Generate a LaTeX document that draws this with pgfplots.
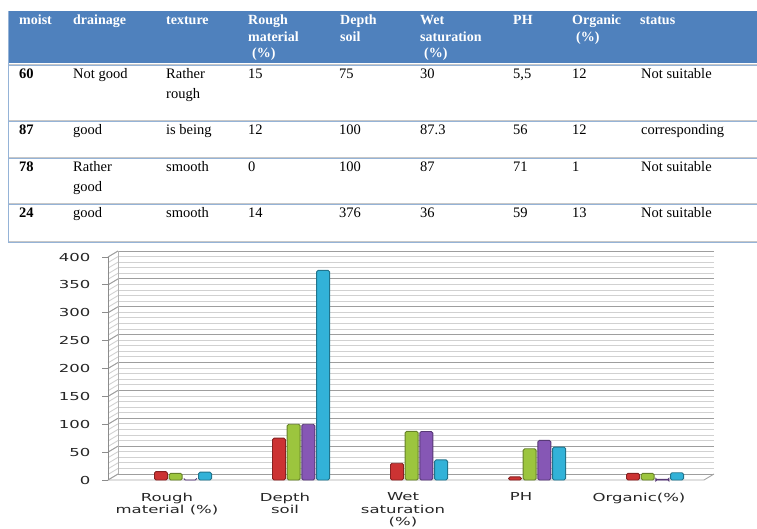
\documentclass[border=0pt]{standalone}
\usepackage{fontspec}
\setmainfont{Liberation Serif}
\newfontfamily\chartfont[FakeStretch=1.5]{DejaVu Sans}
\usepackage{pgfplots}
\pgfplotsset{compat=1.18}
\definecolor{hdr}{HTML}{4F81BD}
\definecolor{rowline}{HTML}{95B3D7}
\definecolor{cR}{HTML}{CC3333}
\definecolor{cG}{HTML}{9CC53E}
\definecolor{cP}{HTML}{8657B5}
\definecolor{cC}{HTML}{32B2D8}
\newcommand{\T}[3]{\node[anchor=base west,inner sep=0pt] at (#1,528-#2) {#3};}
\begin{document}
\begin{tikzpicture}[x=1pt,y=1pt]
\useasboundingbox (0,0) rectangle (757,528);
% ---------- table ----------
\fill[hdr] (8,528-11) rectangle (757,528-63);
\foreach \yy in {64,120,157,203,241}{
  \draw[black!22, line width=0.8pt] (8,528-\yy) -- (757,528-\yy);
  \draw[rowline, line width=1.2pt] (8,528-\yy-1.4) -- (757,528-\yy-1.4);
}
\draw[rowline, line width=1pt] (8,528-11) -- (8,528-242);
\begin{scope}[font=\fontsize{14}{17}\selectfont\bfseries, text=white]
\T{19}{25}{moist}
\T{73}{25}{drainage}
\T{166}{25}{texture}
\T{248}{25}{Rough}\T{248}{42}{material}\T{252}{58}{(\%)}
\T{340}{25}{Depth}\T{340}{42}{soil}
\T{420}{25}{Wet}\T{420}{42}{saturation}\T{424}{58}{(\%)}
\T{513}{25}{PH}
\T{572}{25}{Organic}\T{576}{42}{(\%)}
\T{640}{25}{status}
\end{scope}
\begin{scope}[font=\fontsize{14.5}{20}\selectfont, text=black]
% row 1
\T{19}{79}{\bfseries 60}\T{73}{79}{Not good}\T{166}{79}{Rather}\T{166}{99}{rough}
\T{248}{79}{15}\T{339}{79}{75}\T{420}{79}{30}\T{513}{79}{5,5}\T{572}{79}{12}\T{641}{79}{Not suitable}
% row 2
\T{19}{135}{\bfseries 87}\T{73}{135}{good}\T{166}{135}{is being}
\T{248}{135}{12}\T{339}{135}{100}\T{420}{135}{87.3}\T{513}{135}{56}\T{572}{135}{12}\T{641}{135}{corresponding}
% row 3
\T{19}{172}{\bfseries 78}\T{73}{172}{Rather}\T{73}{192}{good}\T{166}{172}{smooth}
\T{248}{172}{0}\T{339}{172}{100}\T{420}{172}{87}\T{513}{172}{71}\T{572}{172}{1}\T{641}{172}{Not suitable}
% row 4
\T{19}{218}{\bfseries 24}\T{73}{218}{good}\T{166}{218}{smooth}
\T{248}{218}{14}\T{339}{218}{376}\T{420}{218}{36}\T{513}{218}{59}\T{572}{218}{13}\T{641}{218}{Not suitable}
\end{scope}
% ---------- chart ----------
\begin{axis}[at={(124pt,48pt)}, anchor=south west, scale only axis,
  width=590pt, height=223pt,
  xmin=-0.5, xmax=4.5, ymin=0, ymax=400, clip=false,
  axis line style={draw=none}, tick style={draw=none},
  ytick={0,50,...,400},
  xtick={0,1,2,3,4},
  xticklabels={{Rough\\material (\%)},{Depth\\soil},{Wet\\saturation\\(\%)},{PH},{Organic(\%)}},
  /pgf/number format/assume math mode=true,
  yticklabel style={font=\chartfont\fontsize{11}{13}\selectfont, text=black!85, anchor=east, xshift=-30pt},
  xticklabel style={font=\chartfont\fontsize{11}{12.4}\selectfont, text=black!85, align=center, xshift=-16pt, yshift=-5pt},
  ybar=1.7pt, bar width=13pt,
]
% 3D walls and grid
\pgfplotsinvokeforeach{0,10,...,400}{
  \draw[black!18, line width=0.9pt] ([xshift=-6pt,yshift=6pt]axis cs:-0.5,#1) -- ([yshift=6pt]axis cs:4.5,#1);
  \draw[black!18, line width=0.9pt] ([xshift=-16pt]axis cs:-0.5,#1) -- ([xshift=-6pt,yshift=6pt]axis cs:-0.5,#1);
}
\pgfplotsinvokeforeach{0,50,...,400}{
  \draw[black!38, line width=0.9pt] ([xshift=-6pt,yshift=6pt]axis cs:-0.5,#1) -- ([yshift=6pt]axis cs:4.5,#1);
  \draw[black!38, line width=0.9pt] ([xshift=-16pt]axis cs:-0.5,#1) -- ([xshift=-6pt,yshift=6pt]axis cs:-0.5,#1);
  \draw[black!45, line width=0.8pt] ([xshift=-22pt]axis cs:-0.5,#1) -- ([xshift=-16pt]axis cs:-0.5,#1);
}
\draw[black!30, line width=0.8pt] ([xshift=-6pt,yshift=6pt]axis cs:-0.5,0) -- ([xshift=-6pt,yshift=6pt]axis cs:-0.5,400);
\draw[black!45, line width=0.9pt] ([xshift=-16pt]axis cs:-0.5,0) -- ([xshift=-16pt]axis cs:-0.5,400);
\draw[black!35, line width=0.9pt] ([xshift=-16pt]axis cs:-0.5,0) -- ([xshift=-10pt]axis cs:4.5,0) -- ([yshift=6pt]axis cs:4.5,0);
% bars
\addplot[fill=cR, draw=cR!65!black, line width=0.9pt, rounded corners=1.5pt]
  coordinates {(0,15) (1,75) (2,30) (3,5.5) (4,12)};
\addplot[fill=cG, draw=cG!65!black, line width=0.9pt, rounded corners=1.5pt]
  coordinates {(0,12) (1,100) (2,87.3) (3,56) (4,12)};
\addplot[fill=cP, draw=cP!65!black, line width=0.9pt, rounded corners=1.5pt]
  coordinates {(0,0) (1,100) (2,87) (3,71) (4,1)};
\addplot[fill=cC, draw=cC!65!black, line width=0.9pt, rounded corners=1.5pt]
  coordinates {(0,14) (1,376) (2,36) (3,59) (4,13)};
\end{axis}
\end{tikzpicture}
\end{document}
